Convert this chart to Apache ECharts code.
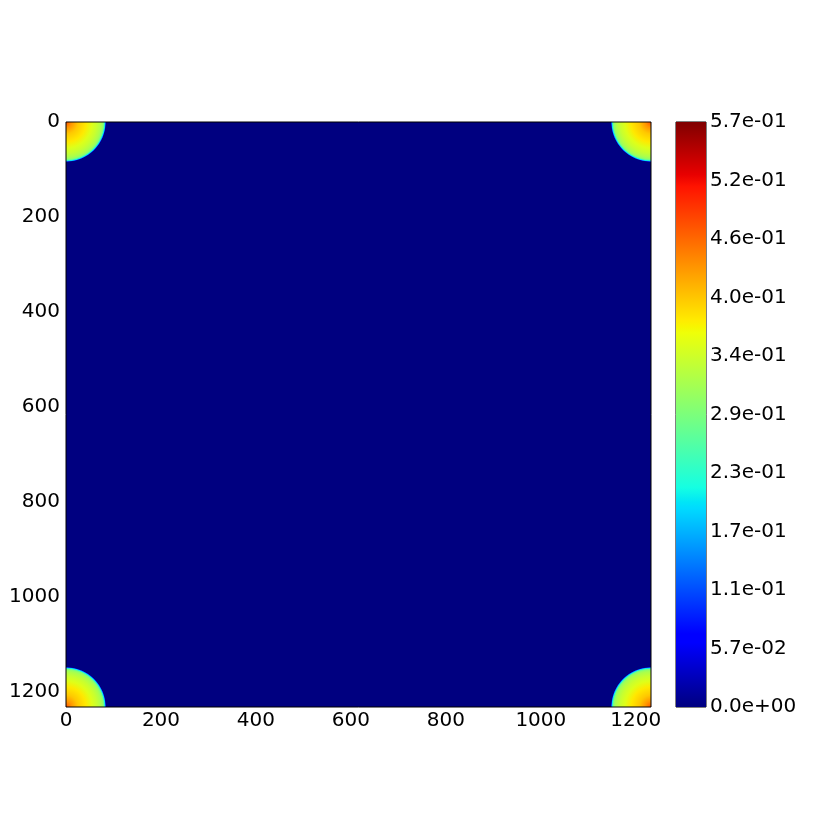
<!DOCTYPE html>
<html>
<head>
<meta charset="utf-8">
<script src="https://cdn.jsdelivr.net/npm/echarts@6/dist/echarts.min.js"></script>
<style>
  html, body { margin: 0; padding: 0; background: #fff; }
  #chart { width: 830px; height: 830px; }
</style>
</head>
<body>
<div id="chart"></div>
<script>
// image extent (pixels) and axis ticks
const fieldSize = 1232;
const axisTicks = [0, 200, 400, 600, 800, 1000, 1200];

// bright spots sit in the four corners of the field
const cornerX = [0, fieldSize, 0, fieldSize];
const cornerY = [0, 0, fieldSize, fieldSize];

// radial profile of each corner spot
const profileR = [0, 6, 12, 25, 42, 55, 65, 74, 78, 80, 82, 83.5, 84.5];
const profileV = [0.48, 0.45, 0.43, 0.40, 0.38, 0.355, 0.34, 0.32, 0.30, 0.27, 0.20, 0.10, 0.0];

// colorbar
const cbarMax = 0.573;
const cbarLabels = ["0.0e+00", "5.7e-02", "1.1e-01", "1.7e-01", "2.3e-01", "2.9e-01",
  "3.4e-01", "4.0e-01", "4.6e-01", "5.2e-01", "5.7e-01"];

// matplotlib jet segment data
const jetR = [[0, 0], [0.35, 0], [0.66, 1], [0.89, 1], [1, 0.5]];
const jetG = [[0, 0], [0.125, 0], [0.375, 1], [0.64, 1], [0.91, 0], [1, 0]];
const jetB = [[0, 0.5], [0.11, 1], [0.34, 1], [0.65, 0], [1, 0]];

function seg(s, t) {
  for (let i = 1; i < s.length; i++) {
    if (t <= s[i][0]) {
      const f = (t - s[i - 1][0]) / (s[i][0] - s[i - 1][0]);
      return s[i - 1][1] + f * (s[i][1] - s[i - 1][1]);
    }
  }
  return s[s.length - 1][1];
}

function jet(t) {
  t = Math.max(0, Math.min(1, t));
  const c = [jetR, jetG, jetB].map((s) => Math.round(seg(s, t) * 255));
  return "rgb(" + c.join(",") + ")";
}

const jetStops = [0, 0.11, 0.125, 0.34, 0.35, 0.375, 0.64, 0.65, 0.66, 0.89, 0.91, 1];

const font = "DejaVu Sans";
const chart = echarts.init(document.getElementById("chart"));

const spotStops = profileR.map((r, i) => ({
  offset: r / profileR[profileR.length - 1],
  color: jet(profileV[i] / cbarMax),
}));

const labelStyle = {
  fontFamily: font,
  fontSize: 20,
  color: "#000",
};

chart.setOption({
  animation: false,
  grid: [
    { left: 66, top: 122, width: 585, height: 585, show: true, borderColor: "#000", borderWidth: 1, backgroundColor: "transparent", z: 5 },
    { left: 676, top: 122, width: 30, height: 585, show: true, borderColor: "#000", borderWidth: 1, backgroundColor: "transparent" },
  ],
  xAxis: [
    {
      gridIndex: 0,
      type: "value",
      min: 0,
      max: fieldSize,
      interval: 200,
      axisLine: { show: false },
      axisTick: { show: false },
      splitLine: { show: false },
      axisLabel: {
        ...labelStyle,
        margin: 4,
        formatter: (v) => (axisTicks.includes(v) ? String(v) : ""),
      },
    },
    { gridIndex: 1, type: "value", min: 0, max: 1, show: false },
  ],
  yAxis: [
    {
      gridIndex: 0,
      type: "value",
      inverse: true,
      min: 0,
      max: fieldSize,
      interval: 200,
      axisLine: { show: false },
      axisTick: { show: false },
      splitLine: { show: false },
      axisLabel: {
        ...labelStyle,
        margin: 6,
        padding: [4, 0, 0, 0],
        formatter: (v) => (axisTicks.includes(v) ? String(v) : ""),
      },
    },
    {
      gridIndex: 1,
      type: "value",
      position: "right",
      min: 0,
      max: cbarMax,
      interval: cbarMax / 10,
      axisLine: { show: false },
      axisTick: { show: false },
      splitLine: { show: false },
      axisLabel: {
        ...labelStyle,
        margin: 4,
        padding: [4, 0, 0, 0],
        formatter: (v) => cbarLabels[Math.round(v / (cbarMax / 10))] || "",
      },
    },
  ],
  series: [
    {
      // zero-valued background of the field
      type: "custom",
      xAxisIndex: 0,
      yAxisIndex: 0,
      clip: true,
      data: [[0, 0, fieldSize, fieldSize]],
      renderItem: (params, api) => {
        const p0 = api.coord([api.value(0), api.value(1)]);
        const p1 = api.coord([api.value(2), api.value(3)]);
        return {
          type: "rect",
          shape: { x: Math.min(p0[0], p1[0]), y: Math.min(p0[1], p1[1]), width: Math.abs(p1[0] - p0[0]), height: Math.abs(p1[1] - p0[1]) },
          style: { fill: jet(0) },
        };
      },
    },
    {
      // corner spots
      type: "custom",
      xAxisIndex: 0,
      yAxisIndex: 0,
      clip: true,
      data: cornerX.map((x, i) => [x, cornerY[i]]),
      renderItem: (params, api) => {
        const c = api.coord([api.value(0), api.value(1)]);
        const r = api.size([profileR[profileR.length - 1], 0])[0];
        return {
          type: "circle",
          shape: { cx: c[0], cy: c[1], r: r },
          style: { fill: new echarts.graphic.RadialGradient(c[0], c[1], r, spotStops, true) },
        };
      },
    },
    {
      // colorbar
      type: "custom",
      xAxisIndex: 1,
      yAxisIndex: 1,
      data: [[0, 0, 1, cbarMax]],
      renderItem: (params, api) => {
        const p0 = api.coord([api.value(0), api.value(1)]);
        const p1 = api.coord([api.value(2), api.value(3)]);
        return {
          type: "rect",
          shape: { x: p0[0], y: p1[1], width: p1[0] - p0[0], height: p0[1] - p1[1] },
          style: {
            fill: new echarts.graphic.LinearGradient(0, 1, 0, 0,
              jetStops.map((t) => ({ offset: t, color: jet(t) }))),
          },
        };
      },
    },
  ],
});
</script>
</body>
</html>
